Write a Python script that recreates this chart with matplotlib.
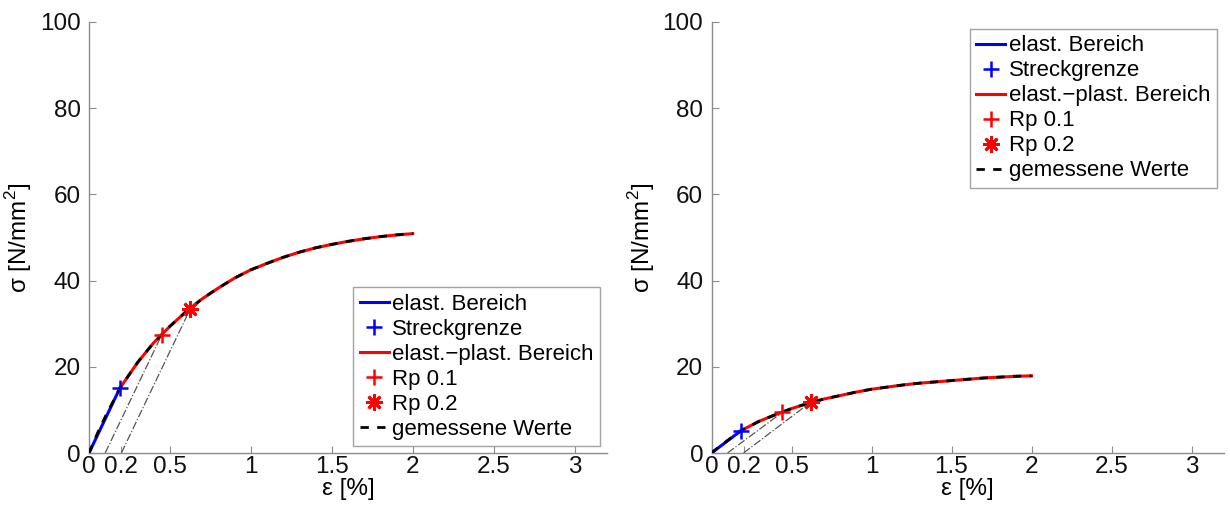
import matplotlib
matplotlib.use("Agg")
import matplotlib.pyplot as plt

plt.rcParams['font.family'] = ['Liberation Sans', 'DejaVu Sans']
plt.rcParams['mathtext.fontset'] = 'custom'
plt.rcParams['mathtext.rm'] = 'Liberation Sans'

# ---------------- data (left panel) ----------------
L_elast_x = [0.0, 0.19]
L_elast_y = [0.0, 15.0]
L_yield = (0.19, 15.0)
L_rp01 = (0.448, 27.3)
L_rp02 = (0.625, 33.4)
L_plast_x = [0.19, 0.3, 0.4, 0.5, 0.6, 0.7, 0.8, 0.9, 1.0, 1.1, 1.2, 1.3,
             1.4, 1.5, 1.6, 1.7, 1.8, 1.9, 2.0]
L_plast_y = [15.0, 21.0, 25.6, 29.4, 32.8, 35.8, 38.3, 40.6, 42.5, 44.0, 45.4,
             46.6, 47.6, 48.4, 49.1, 49.7, 50.2, 50.6, 50.9]
L_meas_x = [0.0, 0.05, 0.1, 0.15, 0.19] + L_plast_x[1:]
L_meas_y = [0.0, 4.4, 8.4, 12.0, 15.0] + L_plast_y[1:]
L_off1_x = [0.1, 0.448]
L_off1_y = [0.0, 27.3]
L_off2_x = [0.2, 0.625]
L_off2_y = [0.0, 33.4]

# ---------------- data (right panel) ----------------
R_elast_x = [0.0, 0.185]
R_elast_y = [0.0, 5.2]
R_yield = (0.185, 5.2)
R_rp01 = (0.441, 9.4)
R_rp02 = (0.62, 11.8)
R_plast_x = [0.185, 0.3, 0.4, 0.5, 0.6, 0.7, 0.8, 0.9, 1.0, 1.1, 1.2, 1.3,
             1.4, 1.5, 1.6, 1.7, 1.8, 1.9, 2.0]
R_plast_y = [5.2, 7.4, 8.9, 10.3, 11.5, 12.5, 13.3, 14.1, 14.8, 15.3, 15.8,
             16.2, 16.5, 16.8, 17.1, 17.4, 17.6, 17.8, 17.9]
R_meas_x = [0.0, 0.05, 0.1, 0.15, 0.185] + R_plast_x[1:]
R_meas_y = [0.0, 1.5, 2.9, 4.3, 5.2] + R_plast_y[1:]
R_off1_x = [0.1, 0.441]
R_off1_y = [0.0, 9.4]
R_off2_x = [0.2, 0.62]
R_off2_y = [0.0, 11.8]

xticks = [0, 0.2, 0.5, 1, 1.5, 2, 2.5, 3]
xticklabels = ['0', '0.2', '0.5', '1', '1.5', '2', '2.5', '3']
yticks = [0, 20, 40, 60, 80, 100]
yticklabels = ['0', '20', '40', '60', '80', '100']

labels = ['elast. Bereich', 'Streckgrenze', 'elast.\u2212plast. Bereich',
          'Rp 0.1', 'Rp 0.2', 'gemessene Werte']

FS = 17.5
LFS = 16
fig = plt.figure(figsize=(12.3, 5.07), dpi=100)
W, H = 1230, 507
ax1 = fig.add_axes([89 / W, (H - 453) / H, 518 / W, 431 / H])
ax2 = fig.add_axes([711.5 / W, (H - 453) / H, 512 / W, 431 / H])

asterisk = (8, 2, 0)


def draw(ax, ex, ey, yld, r1, r2, px, py, mx, my, o1x, o1y, o2x, o2y, legloc):
    ax.plot(o1x, o1y, color='#555555', lw=0.9, ls='-.', zorder=2)
    ax.plot(o2x, o2y, color='#555555', lw=0.9, ls='-.', zorder=2)
    h1, = ax.plot(ex, ey, color='#0000ff', lw=2.2, zorder=3)
    h2, = ax.plot([yld[0]], [yld[1]], ls='none', marker='+', color='#0000ff',
                  ms=12, mew=1.8, zorder=6)
    h3, = ax.plot(px, py, color='#ff0000', lw=2.2, zorder=3)
    h4, = ax.plot([r1[0]], [r1[1]], ls='none', marker='+', color='#ff0000',
                  ms=12, mew=1.8, zorder=6)
    h5, = ax.plot([r2[0]], [r2[1]], ls='none', marker=asterisk, color='#ff0000',
                  ms=12, mew=2.0, zorder=6)
    h6, = ax.plot(mx, my, color='black', lw=2.0, ls=(0, (3, 3)), zorder=4)
    ax.set_xlim(0, 3.2)
    ax.set_ylim(0, 100)
    ax.set_xticks(xticks)
    ax.set_xticklabels(xticklabels)
    ax.set_yticks(yticks)
    ax.set_yticklabels(yticklabels)
    for s in ['top', 'right']:
        ax.spines[s].set_visible(False)
    for s in ['left', 'bottom']:
        ax.spines[s].set_color('#8c8c8c')
        ax.spines[s].set_linewidth(1.0)
    ax.tick_params(direction='in', length=5, width=0.8, color='#8c8c8c',
                   labelsize=FS, labelcolor='#111111')
    ax.tick_params(axis='x', pad=2)
    ax.tick_params(axis='y', pad=6)
    ax.set_xlabel('\u03b5 [%]', fontsize=FS, labelpad=0)
    ax.set_ylabel('\u03c3 [N/mm$^2$]', fontsize=FS, labelpad=4)
    leg = ax.legend([h1, h2, h3, h4, h5, h6], labels, loc=legloc,
                    fontsize=LFS, frameon=True, fancybox=False,
                    borderaxespad=0.3, labelspacing=0.18, handlelength=1.3,
                    handletextpad=0.15, borderpad=0.3)
    leg.get_frame().set_edgecolor('#8c8c8c')
    leg.get_frame().set_linewidth(1.0)


draw(ax1, L_elast_x, L_elast_y, L_yield, L_rp01, L_rp02, L_plast_x, L_plast_y,
     L_meas_x, L_meas_y, L_off1_x, L_off1_y, L_off2_x, L_off2_y, 'lower right')
draw(ax2, R_elast_x, R_elast_y, R_yield, R_rp01, R_rp02, R_plast_x, R_plast_y,
     R_meas_x, R_meas_y, R_off1_x, R_off1_y, R_off2_x, R_off2_y, 'upper right')

fig.savefig('out.png', dpi=100)
